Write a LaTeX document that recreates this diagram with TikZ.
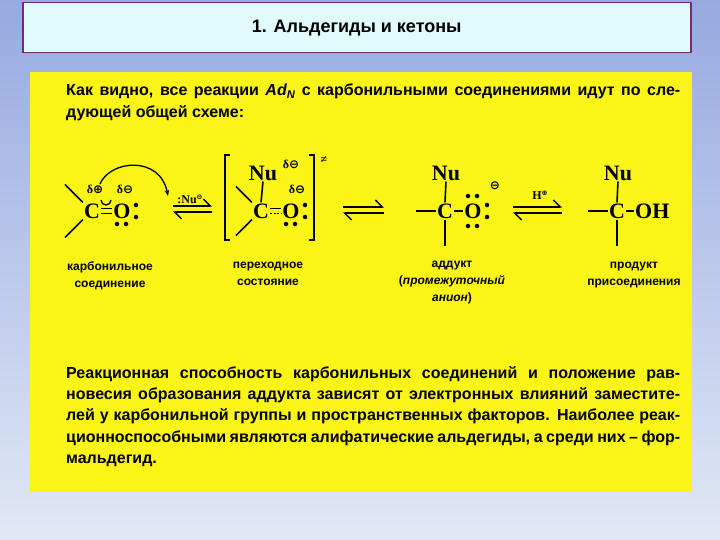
\documentclass[tikz,border=0pt]{standalone}
\usepackage{fontspec}
\setmainfont{Liberation Sans}
\newfontfamily\serifchem{Liberation Serif}
\newfontfamily\dv{DejaVu Sans}
\usetikzlibrary{arrows.meta}
\definecolor{bgtop}{RGB}{150,170,225}
\definecolor{bgbot}{RGB}{225,232,245}
\definecolor{ttl}{RGB}{225,250,250}
\definecolor{ttlb}{RGB}{120,40,120}
\definecolor{ylw}{RGB}{250,245,20}
\newcommand{\pl}{{\dv ⊕}}
\newcommand{\mi}{{\dv ⊖}}
\tikzset{
 body/.style={font=\bfseries\fontsize{16}{21.3}\selectfont, text width=614pt, align=justify, inner sep=0pt, anchor=north west},
 lab/.style={font=\bfseries\fontsize{12}{17}\selectfont, align=center, anchor=north},
 chem/.style={font=\serifchem\bfseries\fontsize{22}{22}\selectfont, inner sep=1pt},
 sm/.style={font=\serifchem\bfseries\fontsize{12}{12}\selectfont, inner sep=0pt},
 bnd/.style={line width=1.6pt},
 eq/.style={line width=1.4pt},
 dot/.style={fill=black, circle, inner sep=1.6pt}
}
\begin{document}
\begin{tikzpicture}[x=1pt,y=-1pt]
\shade[top color=bgtop,bottom color=bgbot] (0,0) rectangle (720,540);
\useasboundingbox (0,0) rectangle (720,540);
\node[draw=ttlb, line width=1.5pt, fill=ttl, minimum width=668pt, minimum height=50pt, anchor=north west, inner sep=0pt] (title) at (22,2) {};
\node[font=\bfseries\fontsize{18}{20}\selectfont] (ttext) at (title.center) {1. Альдегиды и кетоны};
\node[fill=ylw, minimum width=662pt, minimum height=420pt, anchor=north west, inner sep=0pt] (panel) at (30,72) {};
\node[body] (p1) at (66,84) {Как видно, все реакции \textit{Ad\textsubscript{N}} с карбонильными соединениями идут по сле-\linebreak дующей общей схеме:};
\node[body] (p2) at (66,366) {Реакционная способность карбонильных соединений и положение рав-\linebreak новесия образования аддукта зависят от электронных влияний заместите-\linebreak лей у карбонильной группы и пространственных факторов. Наиболее реак-\linebreak ционноспособными являются алифатические альдегиды, а среди них – фор-\linebreak мальдегид.};
% molecule 1
\node[chem] (c1) at (92,211) {C};
\node[chem] (o1) at (122,211) {O};
\draw[bnd] (c1.north west) -- ++(-18,-18) coordinate (e1);
\draw[bnd] (c1.south west) -- ++(-18,18) coordinate (e2);
\draw[bnd] ([yshift=-2.5pt]c1.east) -- ([yshift=-2.5pt]o1.west);
\draw[bnd] ([yshift=2.5pt]c1.east) -- ([yshift=2.5pt]o1.west);
\node[sm] (d1) at (95,189) {δ\pl};
\node[sm] (d2) at (125,189) {δ\mi};
\draw[line width=1.3pt] (101,200) arc (180:0:5);
\draw[line width=1.3pt,-{Stealth[length=6pt]}] (100,184) .. controls (110,160) and (160,155) .. (168,196);
\node[dot] (a1) at (136,205) {}; \node[dot] (a2) at (136,217) {};
\node[dot] (a3) at (117,224) {}; \node[dot] (a4) at (126,224) {};
\node[sm] (nu1) at (190,199) {:Nu\raisebox{4pt}{\scriptsize\mi}};
\draw[eq,-{Straight Barb[left,length=7pt]}] (173,206) -- (212,206);
\draw[eq,-{Straight Barb[left,length=7pt]}] (212,212) -- (173,212);
% transition state
\draw[line width=1.6pt] (230,155) -- (225,155) -- (225,240) -- (230,240);
\draw[line width=1.6pt] (309,155) -- (314,155) -- (314,240) -- (309,240);
\node[sm] (ne) at (324,160) {≠};
\node[chem] (c2) at (261,211) {C};
\node[chem] (o2) at (291,211) {O};
\node[chem] (nu2) at (263,173) {Nu};
\node[sm] (d3) at (291,164) {δ\mi};
\node[sm] (d4) at (297,189) {δ\mi};
\draw[bnd] (nu2.south) -- (c2.north);
\draw[bnd] (c2.north west) -- ++(-16,-16);
\draw[bnd] (c2.south west) -- ++(-16,16);
\draw[bnd] ([yshift=2.5pt]c2.east) -- ([yshift=2.5pt]o2.west);
\draw[line width=1.3pt, dash pattern=on 2pt off 1.5pt] ([yshift=-2.5pt]c2.east) -- ([yshift=-2.5pt]o2.west);
\node[dot] (b1) at (305,205) {}; \node[dot] (b2) at (305,217) {};
\node[dot] (b3) at (286,224) {}; \node[dot] (b4) at (295,224) {};
\draw[eq,-{Straight Barb[left,length=7pt]}] (343,207) -- (384,207);
\draw[eq,-{Straight Barb[left,length=7pt]}] (384,213) -- (343,213);
% adduct
\node[chem] (c3) at (445,211) {C};
\node[chem] (o3) at (473,211) {O};
\node[chem] (nu3) at (446,173) {Nu};
\draw[bnd] (nu3.south) -- (c3.north);
\draw[bnd] (c3.south) -- ++(0,26);
\draw[bnd] (c3.west) -- ++(-20,0);
\draw[bnd] (c3.east) -- (o3.west);
\node[sm] (m3) at (495,186) {\mi};
\node[dot] (f1) at (487,205) {}; \node[dot] (f2) at (487,217) {};
\node[dot] (f3) at (468,196) {}; \node[dot] (f4) at (477,196) {};
\node[dot] (f5) at (468,226) {}; \node[dot] (f6) at (477,226) {};
\node[sm] (h) at (540,195) {H\raisebox{4pt}{\scriptsize\pl}};
\draw[eq,-{Straight Barb[left,length=7pt]}] (513,207) -- (562,207);
\draw[eq,-{Straight Barb[left,length=7pt]}] (562,213) -- (513,213);
% product
\node[chem] (c4) at (617,211) {C};
\node[chem, anchor=west] (oh) at (634,211) {OH};
\node[chem] (nu4) at (618,173) {Nu};
\draw[bnd] (nu4.south) -- (c4.north);
\draw[bnd] (c4.south) -- ++(0,26);
\draw[bnd] (c4.west) -- ++(-20,0);
\draw[bnd] (c4.east) -- (oh.west);
% labels
\node[lab] (l1) at (110,258) {карбонильное\\соединение};
\node[lab] (l2) at (268,258) {переходное\\состояние};
\node[lab] (l3) at (452,258) {аддукт\\(\textit{промежуточный}\\\textit{анион})};
\node[lab] (l4) at (634,258) {продукт\\присоединения};
\end{tikzpicture}
\end{document}
